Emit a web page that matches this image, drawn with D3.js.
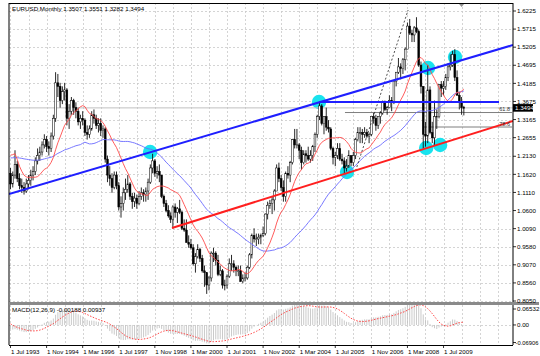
<!DOCTYPE html>
<html><head><meta charset="utf-8">
<script src="https://cdn.jsdelivr.net/npm/d3@7"></script>
<style>body{margin:0;background:#fff}svg{display:block}text{font-family:"Liberation Sans",Arial,sans-serif}</style>
</head><body><svg id="c" width="540" height="356"></svg>
<script>
// ---------- DATA ----------
const title = "EURUSD,Monthly  1.3507 1.3551 1.3282 1.3494";
const macdTitle = "MACD(12,26,9) -0.00188 0.00937";
// off-chart history (Oct 1989 - Jun 1993), used only to seed the averages
const priorCloses = [1.15,1.15,1.16,
  1.16,1.17,1.17,1.18,1.18,1.19,1.20,1.21,1.20,1.21,1.20,1.19,
  1.18,1.17,1.16,1.20,1.21,1.22,1.23,1.24,1.25,1.24,1.23,1.24,
  1.25,1.24,1.23,1.24,1.25,1.14,1.15,1.38,1.40,1.32,1.27,1.20,
  1.17,1.15,1.17,1.20,1.19,1.15];
const firstOpen = 1.165; // Jul 1993
// monthly bars Jul 1993 .. Apr 2010
const closes = [
  1.135,1.160,1.190,1.150,1.130,1.125,
  1.115,1.135,1.145,1.160,1.170,1.200,1.215,1.225,1.245,1.260,1.240,1.235,
  1.270,1.320,1.420,1.410,1.370,1.395,1.400,1.320,1.340,1.370,1.350,1.340,
  1.310,1.320,1.315,1.280,1.275,1.290,1.330,1.320,1.300,1.305,1.285,1.290,
  1.205,1.160,1.150,1.125,1.160,1.130,1.070,1.080,1.110,1.120,1.135,1.100,
  1.085,1.095,1.080,1.100,1.110,1.105,1.115,1.140,1.180,1.200,1.165,1.170,
  1.160,1.100,1.080,1.060,1.045,1.035,1.070,1.055,1.065,1.055,1.010,1.005,
  0.970,0.965,0.955,0.910,0.930,0.950,0.925,0.890,0.885,0.850,0.870,0.940,
  0.940,0.920,0.880,0.890,0.850,0.850,0.875,0.910,0.910,0.900,0.890,0.890,
  0.860,0.870,0.870,0.900,0.935,0.990,0.980,0.980,0.985,0.990,0.995,1.050,
  1.075,1.080,1.090,1.115,1.180,1.150,1.125,1.100,1.165,1.160,1.195,1.260,
  1.245,1.245,1.230,1.195,1.220,1.215,1.205,1.215,1.240,1.275,1.325,1.355,
  1.305,1.325,1.295,1.290,1.235,1.210,1.215,1.235,1.205,1.200,1.180,1.185,
  1.215,1.195,1.215,1.260,1.280,1.280,1.275,1.280,1.270,1.275,1.325,1.320,
  1.300,1.325,1.335,1.365,1.345,1.350,1.370,1.365,1.425,1.450,1.465,1.460,
  1.485,1.515,1.580,1.560,1.555,1.575,1.565,1.470,1.410,1.275,1.270,1.400,
  1.280,1.265,1.325,1.325,1.415,1.405,1.410,1.435,1.465,1.470,1.500,1.435,
  1.385,1.365,1.3507,1.3494];
const highs = [
  1.180,1.170,1.230,1.200,1.165,1.150,
  1.140,1.150,1.160,1.175,1.185,1.210,1.235,1.240,1.255,1.275,1.270,1.255,
  1.280,1.330,1.450,1.445,1.420,1.410,1.420,1.405,1.360,1.380,1.375,1.365,
  1.350,1.330,1.340,1.320,1.300,1.300,1.340,1.345,1.330,1.320,1.320,1.300,
  1.295,1.215,1.185,1.165,1.170,1.170,1.140,1.100,1.125,1.150,1.160,1.140,
  1.110,1.110,1.105,1.115,1.125,1.120,1.125,1.150,1.190,1.220,1.205,1.185,
  1.190,1.160,1.105,1.090,1.075,1.055,1.075,1.080,1.070,1.090,1.060,1.035,
  1.035,0.990,0.980,0.965,0.940,0.965,0.955,0.935,0.905,0.885,0.875,0.945,
  0.955,0.945,0.935,0.905,0.895,0.865,0.880,0.925,0.935,0.920,0.905,0.905,
  0.905,0.880,0.885,0.905,0.940,0.995,1.010,0.995,0.995,0.995,1.015,1.052,
  1.085,1.090,1.100,1.120,1.190,1.195,1.160,1.145,1.170,1.185,1.200,1.262,
  1.290,1.290,1.250,1.240,1.230,1.230,1.240,1.230,1.245,1.280,1.330,1.365,
  1.360,1.325,1.350,1.315,1.295,1.240,1.225,1.250,1.250,1.220,1.210,1.205,
  1.230,1.215,1.225,1.265,1.295,1.295,1.290,1.295,1.290,1.280,1.325,1.335,
  1.330,1.325,1.340,1.370,1.370,1.355,1.385,1.380,1.425,1.450,1.490,1.475,
  1.490,1.520,1.590,1.600,1.570,1.580,1.605,1.570,1.480,1.410,1.310,1.470,
  1.410,1.310,1.370,1.345,1.415,1.425,1.425,1.445,1.475,1.500,1.510,1.515,
  1.455,1.395,1.380,1.3551];
const lows = [
  1.120,1.125,1.150,1.140,1.120,1.110,
  1.105,1.110,1.120,1.130,1.145,1.160,1.190,1.200,1.215,1.235,1.225,1.215,
  1.225,1.260,1.310,1.380,1.350,1.360,1.370,1.300,1.290,1.330,1.330,1.320,
  1.300,1.290,1.300,1.270,1.260,1.265,1.285,1.305,1.290,1.280,1.270,1.265,
  1.195,1.140,1.130,1.110,1.120,1.120,1.060,1.040,1.060,1.090,1.110,1.090,
  1.065,1.070,1.065,1.075,1.090,1.085,1.085,1.090,1.135,1.165,1.155,1.150,
  1.140,1.095,1.070,1.055,1.040,1.025,1.010,1.040,1.025,1.050,1.005,1.000,
  0.970,0.955,0.950,0.905,0.885,0.925,0.915,0.885,0.845,0.825,0.835,0.860,
  0.915,0.905,0.875,0.875,0.840,0.835,0.840,0.870,0.890,0.885,0.875,0.875,
  0.860,0.855,0.860,0.865,0.895,0.925,0.970,0.960,0.965,0.965,0.985,0.990,
  1.035,1.065,1.050,1.060,1.115,1.140,1.115,1.085,1.085,1.150,1.140,1.190,
  1.235,1.235,1.205,1.175,1.190,1.195,1.200,1.195,1.200,1.225,1.265,1.315,
  1.300,1.275,1.285,1.280,1.230,1.190,1.185,1.205,1.200,1.190,1.165,1.170,
  1.180,1.185,1.185,1.205,1.255,1.250,1.250,1.265,1.265,1.250,1.270,1.305,
  1.285,1.290,1.305,1.330,1.340,1.330,1.350,1.340,1.360,1.410,1.445,1.430,
  1.445,1.455,1.515,1.555,1.535,1.535,1.560,1.465,1.390,1.235,1.240,1.250,
  1.275,1.250,1.245,1.290,1.320,1.380,1.385,1.400,1.425,1.455,1.465,1.425,
  1.385,1.345,1.330,1.3282];
const priceTicks = [1.6225,1.5715,1.5205,1.4695,1.4185,1.3675,1.3165,1.2655,1.2130,1.1620,1.1110,1.0600,1.0090,0.9580,0.9070,0.8560,0.8050];
const dateLabels = ["1 Jul 1993","1 Nov 1994","1 Mar 1996","1 Jul 1997","1 Nov 1998","1 Mar 2000","1 Jul 2001","1 Nov 2002","1 Mar 2004","1 Jul 2005","1 Nov 2006","1 Mar 2008","1 Jul 2009"];
const macdTicks = [0.06532, 0, -0.06906];
const maFastPeriod = 14, maSlowPeriod = 45;
// drawn objects: [barIndex, price]
const upperTrend = [[-0.665,1.1066],[222.8,1.5266]];
const lowerTrend = [[71.6,1.0107],[222.8,1.3124]];
const resistance = [[136.8,1.366],[216.6,1.366]];
const dashedLine = [[153.0,1.172],[176.3,1.6253]];
const fibLevels = [{label:"61.8", price:1.3363, from:148.3},{label:"78.6", price:1.2955, from:183.4}];
const markers = [[61.9,1.225],[136.8,1.366],[149.2,1.1686],[185.1,1.4618],[197.1,1.4928],[184.3,1.2363],[190.5,1.2447]];
const lastPrice = 1.3494;

// ---------- DERIVED ----------
const bars = closes.map((c,i)=>({i, o: i===0?firstOpen:closes[i-1], h:highs[i], l:lows[i], c}));
const all = priorCloses.concat(closes), P = priorCloses.length;
function sma(n){ return closes.map((_,i)=>{const k=i+P; return d3.mean(all.slice(Math.max(0,k-n+1),k+1));}); }
function ema(n){ const a=2/(n+1); const out=[]; let e=all[0]; all.forEach((v,k)=>{ e = k===0? v : a*v+(1-a)*e; out.push(e);}); return out; }
const maFast = sma(maFastPeriod), maSlow = sma(maSlowPeriod);
const e12 = ema(12), e26 = ema(26);
const macdAll = all.map((v,k)=>e12[k]-e26[k]);
const macd = closes.map((_,i)=>macdAll[i+P]);
const signal = closes.map((_,i)=>d3.mean(macdAll.slice(i+P-8,i+P+1)));

// ---------- LAYOUT ----------
const svg = d3.select("#c");
const L=9, R=513, T=3, B=302, MT=305, MB=345;
const x = d3.scaleLinear().domain([-0.665,222.8]).range([L,R]);
const y = d3.scaleLinear().domain([0.8050,1.6225]).range([301,11]);
const ym = d3.scaleLinear().domain([-0.06906,0.06532]).range([345,306]);
const fs = 6.2;

svg.append("defs").append("clipPath").attr("id","cm").append("rect").attr("x",L).attr("y",T).attr("width",R-L).attr("height",B-T);
svg.append("defs").append("clipPath").attr("id","cd").append("rect").attr("x",L).attr("y",MT).attr("width",R-L).attr("height",MB-MT);

// grid
const gridX = d3.range(0, 223, 8);
const g = svg.append("g").attr("stroke","#c9c9c9").attr("stroke-dasharray","2,2").attr("stroke-width",0.8);
gridX.forEach(i=>{ const xx=Math.round(x(i))+0.5;
  g.append("line").attr("x1",xx).attr("x2",xx).attr("y1",T).attr("y2",B);
  g.append("line").attr("x1",xx).attr("x2",xx).attr("y1",MT).attr("y2",MB);});
priceTicks.forEach(p=>{ const yy=Math.round(y(p))+0.5; g.append("line").attr("x1",L).attr("x2",R).attr("y1",yy).attr("y2",yy);});
[0].forEach(p=>{ const yy=Math.round(ym(p))+0.5; g.append("line").attr("x1",L).attr("x2",R).attr("y1",yy).attr("y2",yy);});

const main = svg.append("g").attr("clip-path","url(#cm)");
// markers
main.selectAll("circle.m").data(markers).join("circle").attr("cx",d=>x(d[0])).attr("cy",d=>y(d[1])).attr("r",7.2).attr("fill","#19e3ee");
// current price line
main.append("line").attr("x1",L).attr("x2",R).attr("y1",y(lastPrice)).attr("y2",y(lastPrice)).attr("stroke","#c0c0c0").attr("stroke-width",1);
// fib levels
fibLevels.forEach(f=>{
  main.append("line").attr("x1",x(f.from)).attr("x2",R-1).attr("y1",y(f.price)).attr("y2",y(f.price)).attr("stroke","#707070").attr("stroke-width",0.9);
  svg.append("text").attr("x",R-3).attr("y",y(f.price)-1.2).attr("text-anchor","end").attr("font-size",5.5).attr("fill","#333").text(f.label);
});
// candles
const cg = main.append("g");
bars.forEach(b=>{
  const cx = x(b.i);
  cg.append("line").attr("x1",cx).attr("x2",cx).attr("y1",y(b.h)).attr("y2",y(b.l)).attr("stroke","#111").attr("stroke-width",0.9);
  const top=y(Math.max(b.o,b.c)), bot=y(Math.min(b.o,b.c));
  cg.append("rect").attr("x",cx-0.9).attr("y",top).attr("width",1.8).attr("height",Math.max(0.8,bot-top))
    .attr("fill", b.c>=b.o? "#fff":"#000").attr("stroke","#000").attr("stroke-width",0.5);
});
// moving averages
const lineGen = d3.line().x((d,i)=>x(i)).y(d=>y(d));
main.append("path").attr("d",lineGen(maSlow)).attr("fill","none").attr("stroke","#6a6aff").attr("stroke-width",0.9);
main.append("path").attr("d",lineGen(maFast)).attr("fill","none").attr("stroke","#ff4a4a").attr("stroke-width",0.9);
// trend lines
const seg = d3.line().x(d=>x(d[0])).y(d=>y(d[1]));
main.append("path").attr("d",seg(dashedLine)).attr("stroke","#222").attr("stroke-width",0.8).attr("stroke-dasharray","2,2").attr("fill","none");
main.append("path").attr("d",seg(upperTrend)).attr("stroke","#1f1fff").attr("stroke-width",2).attr("fill","none");
main.append("path").attr("d",seg(lowerTrend)).attr("stroke","#ff1f1f").attr("stroke-width",2).attr("fill","none");
main.append("path").attr("d",seg(resistance)).attr("stroke","#1f1fff").attr("stroke-width",2).attr("fill","none");

// MACD panel
const md = svg.append("g").attr("clip-path","url(#cd)");
md.selectAll("line.h").data(macd).join("line").attr("x1",(d,i)=>x(i)).attr("x2",(d,i)=>x(i))
  .attr("y1",ym(0)).attr("y2",d=>ym(d)).attr("stroke","#c4c4c4").attr("stroke-width",0.9);
md.append("path").attr("d",d3.line().x((d,i)=>x(i)).y(d=>ym(d))(signal)).attr("fill","none").attr("stroke","#ff3030").attr("stroke-width",0.9).attr("stroke-dasharray","1.5,1.5");

// frames
svg.append("line").attr("x1",L).attr("x2",L).attr("y1",T).attr("y2",MB).attr("stroke","#000").attr("stroke-width",1);
svg.append("line").attr("x1",R).attr("x2",R).attr("y1",T).attr("y2",MB).attr("stroke","#000").attr("stroke-width",1);
svg.append("line").attr("x1",L).attr("x2",R).attr("y1",T+0.5).attr("y2",T+0.5).attr("stroke","#000").attr("stroke-width",1);
svg.append("rect").attr("x",L).attr("y",B).attr("width",R-L+26).attr("height",3).attr("fill","#8a8a8a");
svg.append("line").attr("x1",L).attr("x2",R).attr("y1",MB+0.5).attr("y2",MB+0.5).attr("stroke","#000").attr("stroke-width",1);
// chart-shift marker
svg.append("path").attr("d",`M${x(200)-2.5},${T+1}L${x(200)+2.5},${T+1}L${x(200)},${T+4}Z`).attr("fill","#909090");

// right axes
const ra = svg.append("g").attr("font-size",fs).attr("fill","#000");
priceTicks.forEach(p=>{ const yy=y(p);
  ra.append("line").attr("x1",R).attr("x2",R+3).attr("y1",yy).attr("y2",yy).attr("stroke","#000").attr("stroke-width",0.8);
  ra.append("text").attr("x",R+4).attr("y",yy+2.2).text(p.toFixed(4));});
macdTicks.forEach(p=>{ const yy=Math.max(309,Math.min(342.5,ym(p)));
  ra.append("line").attr("x1",R).attr("x2",R+3).attr("y1",yy).attr("y2",yy).attr("stroke","#000").attr("stroke-width",0.8);
  ra.append("text").attr("x",p<0?R+2.5:R+4).attr("y",yy+2.2).attr("font-size",p<0?5.8:fs).text(p===0?"0.00":p.toFixed(5));});
// last price tag
svg.append("rect").attr("x",R).attr("y",y(lastPrice)-3.8).attr("width",20).attr("height",7.6).attr("fill","#000");
svg.append("text").attr("x",R+2).attr("y",y(lastPrice)+2.2).attr("font-size",fs).attr("fill","#fff").text(lastPrice.toFixed(4));

// bottom axis
const ba = svg.append("g").attr("font-size",fs).attr("fill","#000");
dateLabels.forEach((t,k)=>{ const xx=x(k*16);
  ba.append("line").attr("x1",xx).attr("x2",xx).attr("y1",MB).attr("y2",MB+3).attr("stroke","#000").attr("stroke-width",0.8);
  ba.append("text").attr("x",xx+0.5).attr("y",354).text(t);});

// titles
svg.append("text").attr("x",12).attr("y",10.5).attr("font-size",fs).text(title);
svg.append("text").attr("x",12).attr("y",312).attr("font-size",fs).text(macdTitle);
</script></body></html>
